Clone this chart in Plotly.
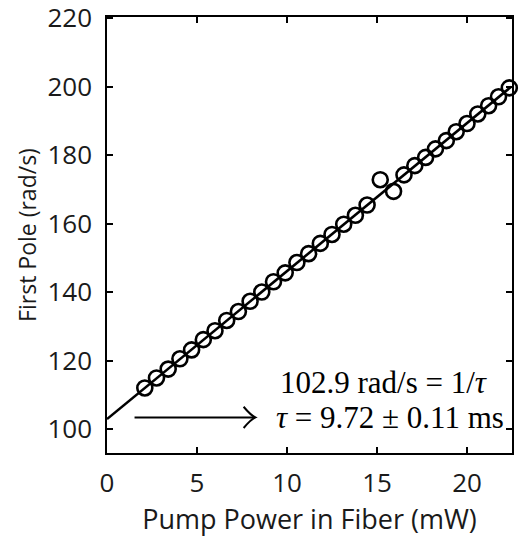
import plotly.graph_objects as go

# Measured data (pump power in mW, first pole in rad/s)
power_mw = [2.1, 2.75, 3.4, 4.05, 4.7, 5.35, 6.0, 6.65, 7.3, 7.95,
            8.6, 9.25, 9.9, 10.55, 11.2, 11.85, 12.5, 13.15, 13.8, 14.45,
            15.18, 15.92,
            16.5, 17.1, 17.7, 18.25, 18.85, 19.4, 20.0, 20.6, 21.2, 21.75, 22.35]
first_pole = [112.0, 114.9, 117.5, 120.5, 123.1, 126.1, 128.7, 131.7, 134.3, 137.3,
              140.0, 143.0, 145.6, 148.6, 151.2, 154.2, 156.8, 159.8, 162.4, 165.4,
              172.8, 169.4,
              174.2, 176.9, 179.3, 181.8, 184.2, 186.8, 189.2, 192.0, 194.4, 197.0, 199.6]

# Linear fit line endpoints
fit_x = [0.0, 22.45]
fit_y = [102.9, 199.9]

# Arrow pointing at the intercept
arrow_x = [1.53, 8.24]
arrow_y = 103.4

x_ticks = [0, 5, 10, 15, 20]
y_ticks = [100, 120, 140, 160, 180, 200, 220]

fig = go.Figure()
fig.add_trace(go.Scatter(x=fit_x, y=fit_y, mode="lines",
                         line=dict(color="black", width=2.6),
                         showlegend=False, cliponaxis=True))
fig.add_trace(go.Scatter(x=power_mw, y=first_pole, mode="markers",
                         marker=dict(symbol="circle-open", size=15, color="black",
                                     line=dict(width=2.6, color="black")),
                         showlegend=False, cliponaxis=False))

# arrow shaft and open head
fig.add_shape(type="line", x0=arrow_x[0], x1=arrow_x[1], y0=arrow_y, y1=arrow_y,
              line=dict(color="black", width=2))
fig.add_shape(type="path",
              path=f"M {arrow_x[1]-0.65},{arrow_y+3.1} Q {arrow_x[1]-0.25},{arrow_y+0.6} {arrow_x[1]},{arrow_y} "
                   f"Q {arrow_x[1]-0.25},{arrow_y-0.6} {arrow_x[1]-0.65},{arrow_y-3.1}",
              line=dict(color="black", width=2))

serif = "Liberation Serif"
fig.add_annotation(x=1.0, xref="paper", y=113.6, yref="y", xanchor="right", yanchor="middle",
                   text="102.9 rad/s = 1/<i>τ</i>", showarrow=False, xshift=-22,
                   font=dict(family=serif, size=31, color="black"))
fig.add_annotation(x=1.0, xref="paper", y=103.4, yref="y", xanchor="right", yanchor="middle",
                   text="<i>τ</i> = 9.72 ± 0.11 ms", showarrow=False, xshift=-6,
                   font=dict(family=serif, size=31, color="black"))

sans = "Open Sans"
axis_common = dict(showline=True, linecolor="black", linewidth=1.5, mirror="ticks",
                   ticks="inside", ticklen=6, tickwidth=1.5, tickcolor="black",
                   showgrid=False, zeroline=False, ticklabeloverflow="allow",
                   automargin=False,
                   tickfont=dict(family=sans, size=26, color="#1a1a1a"))
fig.update_xaxes(range=[0, 22.5], tickvals=x_ticks, ticktext=[str(v) for v in x_ticks],
                 title=dict(text="Pump Power in Fiber (mW)", standoff=8,
                            font=dict(family=sans, size=27, color="#1a1a1a")),
                 ticklabelstandoff=6, **axis_common)
fig.update_yaxes(range=[93.0, 220.3], tickvals=y_ticks, ticktext=[str(v) for v in y_ticks],
                 title=dict(text="First Pole (rad/s)", standoff=4,
                            font=dict(family=sans, size=23, color="#1a1a1a")),
                 ticklabelstandoff=8, **axis_common)

fig.update_layout(width=519, height=542, margin=dict(l=107, r=7, t=17, b=89),
                  plot_bgcolor="white", paper_bgcolor="white", showlegend=False)
fig.write_html("out.html")
